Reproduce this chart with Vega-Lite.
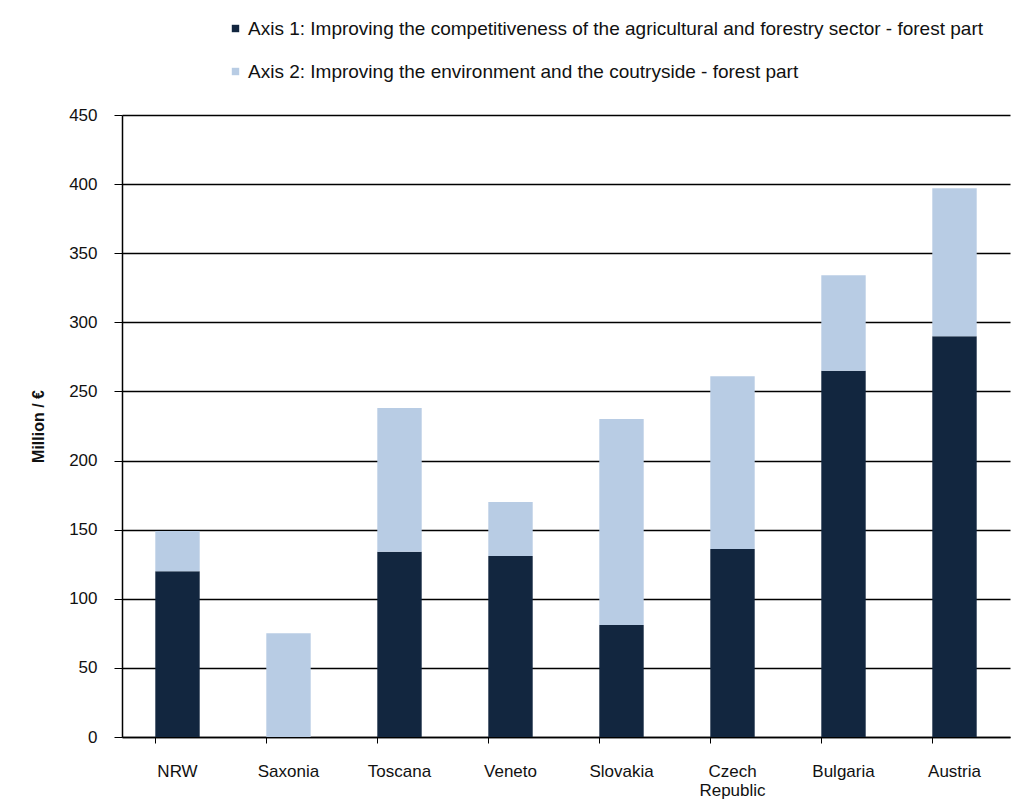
{
  "$schema": "https://vega.github.io/schema/vega-lite/v6.json",
  "autosize": {"type": "none"},
  "width": 888,
  "height": 622,
  "padding": {"left": 122, "top": 115, "right": 6, "bottom": 66},
  "background": "white",
  "config": {
    "view": {"stroke": null},
    "font": "Liberation Sans, Arial"
  },
  "data": {
    "values": [
      {"country": "NRW", "series": "Axis 1: Improving the competitiveness of the agricultural and forestry sector - forest part", "value": 120},
      {"country": "NRW", "series": "Axis 2: Improving the environment and the coutryside - forest part", "value": 29},
      {"country": "Saxonia", "series": "Axis 1: Improving the competitiveness of the agricultural and forestry sector - forest part", "value": 0},
      {"country": "Saxonia", "series": "Axis 2: Improving the environment and the coutryside - forest part", "value": 75},
      {"country": "Toscana", "series": "Axis 1: Improving the competitiveness of the agricultural and forestry sector - forest part", "value": 134},
      {"country": "Toscana", "series": "Axis 2: Improving the environment and the coutryside - forest part", "value": 104},
      {"country": "Veneto", "series": "Axis 1: Improving the competitiveness of the agricultural and forestry sector - forest part", "value": 131},
      {"country": "Veneto", "series": "Axis 2: Improving the environment and the coutryside - forest part", "value": 39},
      {"country": "Slovakia", "series": "Axis 1: Improving the competitiveness of the agricultural and forestry sector - forest part", "value": 81},
      {"country": "Slovakia", "series": "Axis 2: Improving the environment and the coutryside - forest part", "value": 149},
      {"country": "Czech Republic", "series": "Axis 1: Improving the competitiveness of the agricultural and forestry sector - forest part", "value": 136},
      {"country": "Czech Republic", "series": "Axis 2: Improving the environment and the coutryside - forest part", "value": 125},
      {"country": "Bulgaria", "series": "Axis 1: Improving the competitiveness of the agricultural and forestry sector - forest part", "value": 265},
      {"country": "Bulgaria", "series": "Axis 2: Improving the environment and the coutryside - forest part", "value": 69},
      {"country": "Austria", "series": "Axis 1: Improving the competitiveness of the agricultural and forestry sector - forest part", "value": 290},
      {"country": "Austria", "series": "Axis 2: Improving the environment and the coutryside - forest part", "value": 107}
    ]
  },
  "mark": {"type": "bar"},
  "encoding": {
    "x": {
      "field": "country",
      "type": "nominal",
      "sort": null,
      "scale": {"paddingInner": 0.6, "paddingOuter": 0.3},
      "axis": {
        "title": null,
        "labelAngle": 0,
        "labelExpr": "split(datum.label, ' ')",
        "labelFontSize": 17,
        "labelColor": "#111111",
        "labelPadding": 20,
        "labelLineHeight": 19,
        "bandPosition": 0,
        "tickColor": "black",
        "tickSize": 6,
        "domainColor": "black",
        "domainWidth": 1.5,
        "grid": false
      }
    },
    "y": {
      "field": "value",
      "type": "quantitative",
      "stack": "zero",
      "scale": {"domain": [0, 450], "nice": false},
      "axis": {
        "title": "Million / €",
        "titleFontSize": 16,
        "titleFontWeight": "bold",
        "titleColor": "#111111",
        "titlePadding": 22,
        "values": [0, 50, 100, 150, 200, 250, 300, 350, 400, 450],
        "labelFontSize": 17,
        "labelColor": "#111111",
        "labelPadding": 17,
        "tickColor": "black",
        "tickSize": 8,
        "domainColor": "black",
        "domainWidth": 1.5,
        "grid": true,
        "gridColor": "black",
        "gridWidth": 1.5,
        "gridOpacity": 1
      }
    },
    "color": {
      "field": "series",
      "type": "nominal",
      "scale": {
        "domain": [
          "Axis 1: Improving the competitiveness of the agricultural and forestry sector - forest part",
          "Axis 2: Improving the environment and the coutryside - forest part"
        ],
        "range": ["#12263f", "#b8cce4"]
      },
      "legend": {
        "title": null,
        "orient": "none",
        "legendX": 104,
        "legendY": -96,
        "direction": "vertical",
        "symbolType": "square",
        "symbolSize": 55,
        "symbolStrokeWidth": 0,
        "labelFontSize": 19,
        "labelColor": "#111111",
        "labelOffset": 3,
        "labelLimit": 900,
        "rowPadding": 23
      }
    },
    "order": {"field": "series", "sort": "ascending"}
  }
}
